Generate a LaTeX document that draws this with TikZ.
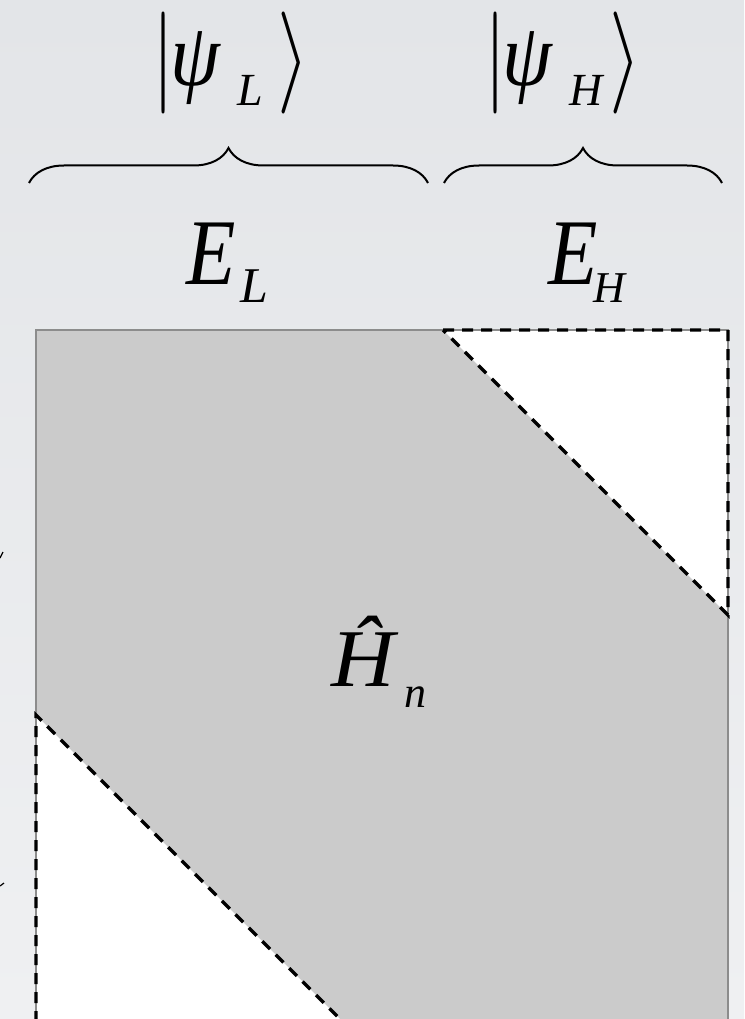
\documentclass[tikz,border=0pt]{standalone}
\usepackage{fontspec}
\setmainfont{Liberation Serif}
\usetikzlibrary{decorations.pathreplacing}
\definecolor{bgtop}{HTML}{E3E5E8}
\definecolor{bgbot}{HTML}{EFF0F2}
\definecolor{cellgray}{HTML}{CBCBCB}
\definecolor{edgegray}{HTML}{8C8C8C}
\begin{document}
\begin{tikzpicture}[x=1pt,y=-1pt,
  lbl/.style={inner sep=0pt, outer sep=0pt, anchor=base west},
  delim/.style={inner sep=0pt, outer sep=0pt, anchor=north},
  bracepath/.style={decorate, decoration={brace, amplitude=35pt}, line width=2pt},
  dashedge/.style={line width=3.2pt, dash pattern=on 11pt off 8pt},
  solidedge/.style={line width=2.5pt, draw=edgegray}]
\useasboundingbox (0,0) rectangle (744,1019);
\clip (0,0) rectangle (744,1019);
\shade[top color=bgtop, bottom color=bgbot] (0,0) rectangle (744,1019);

% matrix block
\fill[cellgray] (36,330) -- (443,330) -- (728,615) -- (728,1022) -- (343,1022) -- (36,715) -- cycle;
\fill[white] (443,330) -- (728,330) -- (728,615) -- cycle;
\fill[white] (36,715) -- (343,1022) -- (36,1022) -- cycle;
\draw[solidedge] (36,330) rectangle (728,1022);
\coordinate (tA) at (443,330);
\coordinate (tB) at (728,330);
\coordinate (tC) at (728,615);
\coordinate (bA) at (36,715);
\coordinate (bB) at (343,1022);
\coordinate (bC) at (36,1022);
\draw[dashedge] (tA) -- (tB) -- (tC) -- cycle;
\draw[dashedge] (bC) -- (bA) -- (bB);

% kets
\node[delim] (barL) at (163,12) {\resizebox*{22pt}{102pt}{$|$}};
\node[lbl] (psiL) at (170,86) {\scalebox{1}[1.12]{\fontsize{80}{84}\selectfont\itshape ψ}};
\node[lbl] (subLk) at (237,106) {\fontsize{46}{48}\selectfont\itshape L};
\node[delim] (angL) at (294,12) {\resizebox*{32pt}{102pt}{$\rangle$}};

\node[delim] (barH) at (495,12) {\resizebox*{22pt}{102pt}{$|$}};
\node[lbl] (psiH) at (502,86) {\scalebox{1}[1.12]{\fontsize{80}{84}\selectfont\itshape ψ}};
\node[lbl] (subHk) at (569,106) {\fontsize{46}{48}\selectfont\itshape H};
\node[delim] (angH) at (625,12) {\resizebox*{32pt}{102pt}{$\rangle$}};

% braces
\coordinate (bl1) at (29,183);
\coordinate (bl2) at (428,183);
\coordinate (br1) at (444,183);
\coordinate (br2) at (722,183);
\draw[bracepath] (bl1) -- (bl2);
\draw[bracepath] (br1) -- (br2);

% energies
\node[lbl] (EL) at (186,284) {\scalebox{0.86}[1]{\fontsize{94}{98}\selectfont\itshape E}};
\node[lbl] (ELs) at (240,302) {\fontsize{50}{54}\selectfont\itshape L};
\node[lbl] (EH) at (548,284) {\scalebox{0.86}[1]{\fontsize{94}{98}\selectfont\itshape E}};
\node[lbl] (EHs) at (593,302) {\fontsize{44}{48}\selectfont\itshape H};

% operator
\node[lbl] (Hn) at (331,686) {\scalebox{1.07}[1]{\fontsize{82}{86}\selectfont\itshape Ĥ}};
\node[lbl] (Hns) at (404,707) {\fontsize{44}{46}\selectfont\itshape n};

% cut-off glyph fragments at the left edge
\draw[line width=1.2pt] (0,558) -- (3,552);
\draw[line width=1.2pt] (0,886) -- (4,883);
\end{tikzpicture}
\end{document}
